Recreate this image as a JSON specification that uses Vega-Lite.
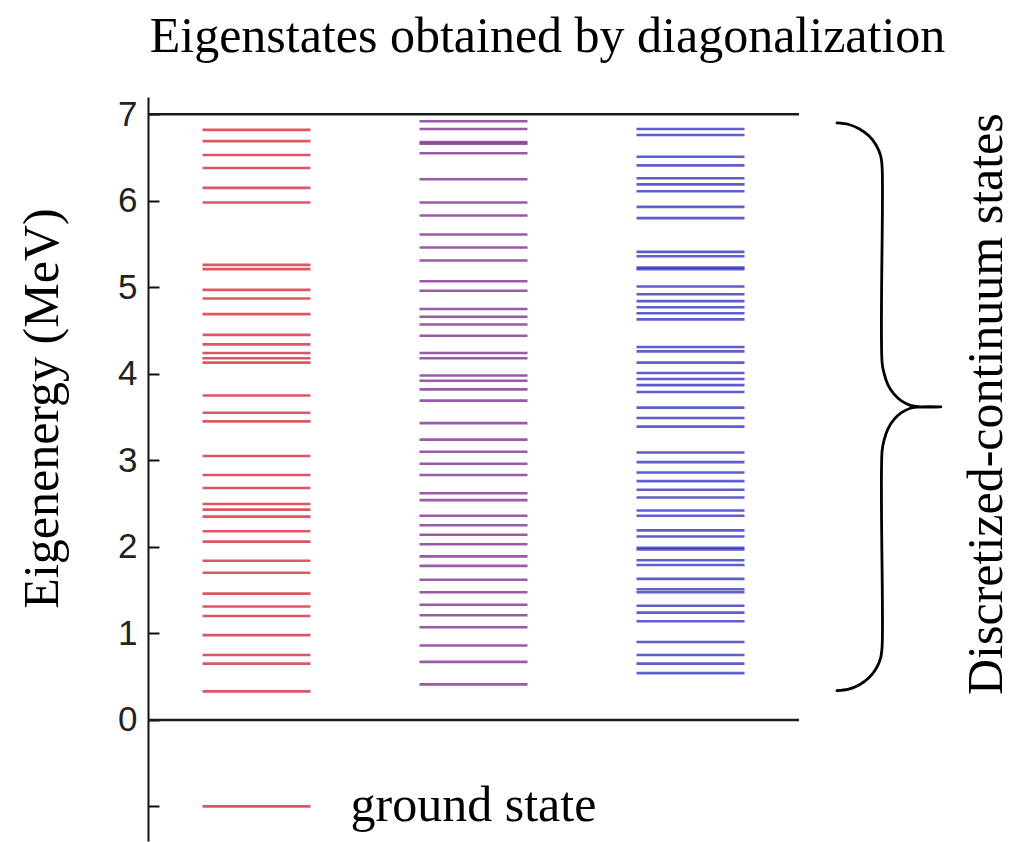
{
  "$schema": "https://vega.github.io/schema/vega-lite/v6.json",
  "autosize": {"type": "none"},
  "padding": {"left": 148, "top": 97, "right": 213, "bottom": 1},
  "width": 651,
  "height": 744,
  "background": "white",
  "title": {
    "text": "Eigenstates obtained by diagonalization",
    "font": "Liberation Serif",
    "fontSize": 50,
    "fontWeight": "normal",
    "color": "#000000",
    "anchor": "middle",
    "frame": "group",
    "baseline": "alphabetic",
    "offset": -5,
    "dx": 74
  },
  "config": {
    "view": {"stroke": null},
    "axisY": {
      "grid": false,
      "domainColor": "#111111",
      "domainWidth": 2,
      "tickColor": "#111111",
      "tickWidth": 2,
      "tickSize": -11,
      "labelFont": "Liberation Sans",
      "labelFontSize": 35,
      "labelColor": "#222222",
      "labelPadding": 22
    }
  },
  "datasets": {
    "frame": [{"E": 0}, {"E": 7}],
    "levels": [
      {"set": "s1", "col": 1, "E": -1},
      {"set": "s1", "col": 1, "E": 6.82}, {"set": "s1", "col": 1, "E": 6.69}, {"set": "s1", "col": 1, "E": 6.53}, {"set": "s1", "col": 1, "E": 6.38},
      {"set": "s1", "col": 1, "E": 6.15}, {"set": "s1", "col": 1, "E": 5.98}, {"set": "s1", "col": 1, "E": 5.26}, {"set": "s1", "col": 1, "E": 5.21},
      {"set": "s1", "col": 1, "E": 4.97}, {"set": "s1", "col": 1, "E": 4.87}, {"set": "s1", "col": 1, "E": 4.69}, {"set": "s1", "col": 1, "E": 4.45},
      {"set": "s1", "col": 1, "E": 4.34}, {"set": "s1", "col": 1, "E": 4.24}, {"set": "s1", "col": 1, "E": 4.18}, {"set": "s1", "col": 1, "E": 4.13},
      {"set": "s1", "col": 1, "E": 3.75}, {"set": "s1", "col": 1, "E": 3.55}, {"set": "s1", "col": 1, "E": 3.45}, {"set": "s1", "col": 1, "E": 3.05},
      {"set": "s1", "col": 1, "E": 2.83}, {"set": "s1", "col": 1, "E": 2.68}, {"set": "s1", "col": 1, "E": 2.495}, {"set": "s1", "col": 1, "E": 2.43},
      {"set": "s1", "col": 1, "E": 2.35}, {"set": "s1", "col": 1, "E": 2.18}, {"set": "s1", "col": 1, "E": 2.06}, {"set": "s1", "col": 1, "E": 1.84},
      {"set": "s1", "col": 1, "E": 1.70}, {"set": "s1", "col": 1, "E": 1.46}, {"set": "s1", "col": 1, "E": 1.31}, {"set": "s1", "col": 1, "E": 1.20},
      {"set": "s1", "col": 1, "E": 0.98}, {"set": "s1", "col": 1, "E": 0.75}, {"set": "s1", "col": 1, "E": 0.65}, {"set": "s1", "col": 1, "E": 0.33},
      {"set": "s2", "col": 2, "E": 6.92}, {"set": "s2", "col": 2, "E": 6.83}, {"set": "s2", "col": 2, "E": 6.68}, {"set": "s2", "col": 2, "E": 6.66},
      {"set": "s2", "col": 2, "E": 6.55}, {"set": "s2", "col": 2, "E": 6.25}, {"set": "s2", "col": 2, "E": 5.98}, {"set": "s2", "col": 2, "E": 5.83},
      {"set": "s2", "col": 2, "E": 5.61}, {"set": "s2", "col": 2, "E": 5.46}, {"set": "s2", "col": 2, "E": 5.31}, {"set": "s2", "col": 2, "E": 5.07},
      {"set": "s2", "col": 2, "E": 4.96}, {"set": "s2", "col": 2, "E": 4.75}, {"set": "s2", "col": 2, "E": 4.66}, {"set": "s2", "col": 2, "E": 4.57},
      {"set": "s2", "col": 2, "E": 4.44}, {"set": "s2", "col": 2, "E": 4.24}, {"set": "s2", "col": 2, "E": 4.18}, {"set": "s2", "col": 2, "E": 3.98},
      {"set": "s2", "col": 2, "E": 3.92}, {"set": "s2", "col": 2, "E": 3.82}, {"set": "s2", "col": 2, "E": 3.69}, {"set": "s2", "col": 2, "E": 3.43},
      {"set": "s2", "col": 2, "E": 3.24}, {"set": "s2", "col": 2, "E": 3.10}, {"set": "s2", "col": 2, "E": 2.96}, {"set": "s2", "col": 2, "E": 2.83},
      {"set": "s2", "col": 2, "E": 2.62}, {"set": "s2", "col": 2, "E": 2.54}, {"set": "s2", "col": 2, "E": 2.36}, {"set": "s2", "col": 2, "E": 2.25},
      {"set": "s2", "col": 2, "E": 2.14}, {"set": "s2", "col": 2, "E": 2.03}, {"set": "s2", "col": 2, "E": 1.89}, {"set": "s2", "col": 2, "E": 1.78},
      {"set": "s2", "col": 2, "E": 1.62}, {"set": "s2", "col": 2, "E": 1.475}, {"set": "s2", "col": 2, "E": 1.33}, {"set": "s2", "col": 2, "E": 1.21},
      {"set": "s2", "col": 2, "E": 1.07}, {"set": "s2", "col": 2, "E": 0.86}, {"set": "s2", "col": 2, "E": 0.67}, {"set": "s2", "col": 2, "E": 0.41},
      {"set": "s3", "col": 3, "E": 6.83}, {"set": "s3", "col": 3, "E": 6.76}, {"set": "s3", "col": 3, "E": 6.51}, {"set": "s3", "col": 3, "E": 6.41},
      {"set": "s3", "col": 3, "E": 6.26}, {"set": "s3", "col": 3, "E": 6.19}, {"set": "s3", "col": 3, "E": 6.11}, {"set": "s3", "col": 3, "E": 5.93},
      {"set": "s3", "col": 3, "E": 5.80}, {"set": "s3", "col": 3, "E": 5.41}, {"set": "s3", "col": 3, "E": 5.36}, {"set": "s3", "col": 3, "E": 5.23},
      {"set": "s3", "col": 3, "E": 5.21}, {"set": "s3", "col": 3, "E": 5.01}, {"set": "s3", "col": 3, "E": 4.92}, {"set": "s3", "col": 3, "E": 4.84},
      {"set": "s3", "col": 3, "E": 4.77}, {"set": "s3", "col": 3, "E": 4.70}, {"set": "s3", "col": 3, "E": 4.63}, {"set": "s3", "col": 3, "E": 4.31},
      {"set": "s3", "col": 3, "E": 4.26}, {"set": "s3", "col": 3, "E": 4.13}, {"set": "s3", "col": 3, "E": 4.01}, {"set": "s3", "col": 3, "E": 3.94},
      {"set": "s3", "col": 3, "E": 3.87}, {"set": "s3", "col": 3, "E": 3.79}, {"set": "s3", "col": 3, "E": 3.61}, {"set": "s3", "col": 3, "E": 3.49},
      {"set": "s3", "col": 3, "E": 3.39}, {"set": "s3", "col": 3, "E": 3.09}, {"set": "s3", "col": 3, "E": 2.98}, {"set": "s3", "col": 3, "E": 2.86},
      {"set": "s3", "col": 3, "E": 2.76}, {"set": "s3", "col": 3, "E": 2.66}, {"set": "s3", "col": 3, "E": 2.57}, {"set": "s3", "col": 3, "E": 2.42},
      {"set": "s3", "col": 3, "E": 2.36}, {"set": "s3", "col": 3, "E": 2.19}, {"set": "s3", "col": 3, "E": 2.12}, {"set": "s3", "col": 3, "E": 1.99},
      {"set": "s3", "col": 3, "E": 1.97}, {"set": "s3", "col": 3, "E": 1.845}, {"set": "s3", "col": 3, "E": 1.79}, {"set": "s3", "col": 3, "E": 1.63},
      {"set": "s3", "col": 3, "E": 1.51}, {"set": "s3", "col": 3, "E": 1.475}, {"set": "s3", "col": 3, "E": 1.32}, {"set": "s3", "col": 3, "E": 1.24},
      {"set": "s3", "col": 3, "E": 1.14}, {"set": "s3", "col": 3, "E": 0.90}, {"set": "s3", "col": 3, "E": 0.75}, {"set": "s3", "col": 3, "E": 0.65},
      {"set": "s3", "col": 3, "E": 0.54}
    ],
    "groundLabel": [{"col": 2, "E": -1, "label": "ground state"}],
    "braceLabel": [{"col": 4.435, "E": 3.65, "label": "Discretized-continuum states"}],
    "brace": [
      {"o": 1, "bx": 3.675, "E": 6.900}, {"o": 2, "bx": 3.729, "E": 6.882}, {"o": 3, "bx": 3.779, "E": 6.831},
      {"o": 4, "bx": 3.822, "E": 6.751}, {"o": 5, "bx": 3.855, "E": 6.646}, {"o": 6, "bx": 3.876, "E": 6.523},
      {"o": 7, "bx": 3.883, "E": 6.391}, {"o": 8, "bx": 3.883, "E": 4.127}, {"o": 9, "bx": 3.893, "E": 3.996},
      {"o": 10, "bx": 3.910, "E": 3.873}, {"o": 11, "bx": 3.937, "E": 3.768}, {"o": 12, "bx": 3.972, "E": 3.687},
      {"o": 13, "bx": 4.013, "E": 3.636}, {"o": 14, "bx": 4.058, "E": 3.619}, {"o": 15, "bx": 4.154, "E": 3.619},
      {"o": 16, "bx": 4.058, "E": 3.619}, {"o": 17, "bx": 4.013, "E": 3.602}, {"o": 18, "bx": 3.972, "E": 3.551},
      {"o": 19, "bx": 3.937, "E": 3.470}, {"o": 20, "bx": 3.910, "E": 3.365}, {"o": 21, "bx": 3.893, "E": 3.242},
      {"o": 22, "bx": 3.883, "E": 3.111}, {"o": 23, "bx": 3.883, "E": 0.847}, {"o": 24, "bx": 3.876, "E": 0.715},
      {"o": 25, "bx": 3.855, "E": 0.592}, {"o": 26, "bx": 3.822, "E": 0.487}, {"o": 27, "bx": 3.779, "E": 0.407},
      {"o": 28, "bx": 3.729, "E": 0.356}, {"o": 29, "bx": 3.675, "E": 0.338}
    ]
  },
  "layer": [
    {
      "data": {"name": "frame"},
      "mark": {"type": "rule", "color": "#1a1a1a", "strokeWidth": 2.5},
      "encoding": {
        "y": {
          "field": "E",
          "type": "quantitative",
          "scale": {"domain": [-1.4, 7.2], "nice": false, "zero": false},
          "axis": {
            "values": [-1, 0, 1, 2, 3, 4, 5, 6, 7],
            "labelExpr": "datum.value < 0 ? '' : format(datum.value, 'd')",
            "title": "Eigenenergy (MeV)",
            "titleFont": "Liberation Serif",
            "titleFontSize": 50,
            "titleFontWeight": "normal",
            "titleColor": "#000000",
            "titleAngle": 270,
            "titleAlign": "center",
            "titleBaseline": "alphabetic",
            "titleX": -91,
            "titleY": 311
          }
        }
      }
    },
    {
      "data": {"name": "levels"},
      "mark": {"type": "tick", "orient": "horizontal", "size": 108, "thickness": 2.6},
      "encoding": {
        "x": {"field": "col", "type": "quantitative", "scale": {"domain": [0.5, 3.5], "nice": false, "zero": false}, "axis": null},
        "y": {"field": "E", "type": "quantitative"},
        "color": {
          "field": "set",
          "type": "nominal",
          "scale": {"domain": ["s1", "s2", "s3"], "range": ["#cc1020", "#6e1480", "#1a1ab8"]},
          "legend": null
        }
      }
    },
    {
      "data": {"name": "groundLabel"},
      "mark": {"type": "text", "font": "Liberation Serif", "fontSize": 50, "color": "#000000", "align": "center", "baseline": "middle"},
      "encoding": {
        "x": {"field": "col", "type": "quantitative", "axis": null},
        "y": {"field": "E", "type": "quantitative"},
        "text": {"field": "label"}
      }
    },
    {
      "data": {"name": "brace"},
      "mark": {"type": "line", "color": "#000000", "strokeWidth": 2.8, "interpolate": "catmull-rom", "strokeJoin": "round", "strokeCap": "round"},
      "encoding": {
        "x": {"field": "bx", "type": "quantitative", "axis": null},
        "y": {"field": "E", "type": "quantitative"},
        "order": {"field": "o", "type": "quantitative"}
      }
    },
    {
      "data": {"name": "braceLabel"},
      "mark": {"type": "text", "font": "Liberation Serif", "fontSize": 50, "color": "#000000", "align": "center", "baseline": "alphabetic", "angle": 270},
      "encoding": {
        "x": {"field": "col", "type": "quantitative", "axis": null},
        "y": {"field": "E", "type": "quantitative"},
        "text": {"field": "label"}
      }
    }
  ]
}
